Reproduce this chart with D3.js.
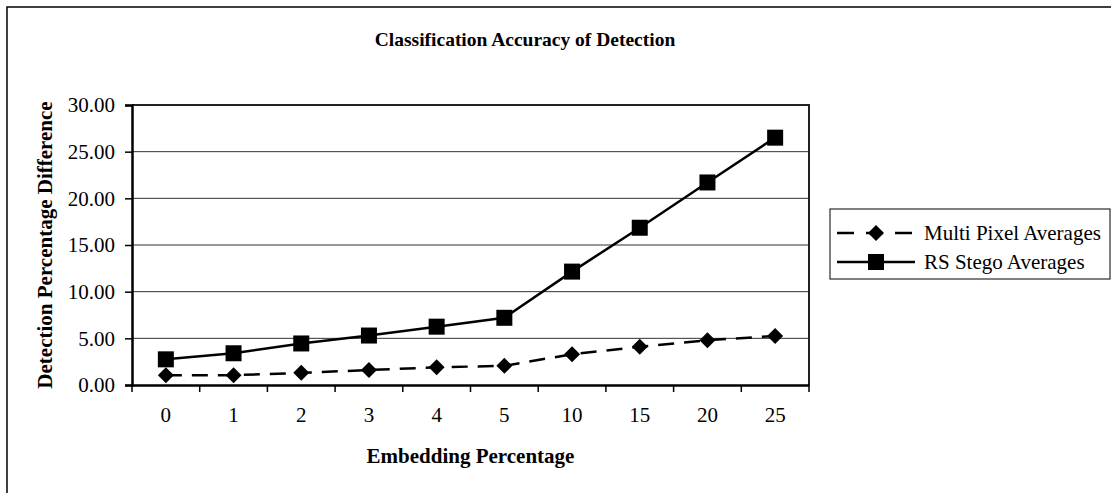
<!DOCTYPE html>
<html>
<head>
<meta charset="utf-8">
<script src="https://cdn.jsdelivr.net/npm/d3@7"></script>
<style>
  body { margin: 0; background: #fff; }
  svg text { font-family: "Liberation Serif", "Times New Roman", serif; }
</style>
</head>
<body>
<svg id="chart" width="1111" height="493"></svg>
<script>
const categories = ["0", "1", "2", "3", "4", "5", "10", "15", "20", "25"];
const multiPixel = [1.05, 1.05, 1.3, 1.6, 1.9, 2.05, 3.3, 4.1, 4.8, 5.25];
const rsStego = [2.75, 3.4, 4.45, 5.3, 6.25, 7.2, 12.15, 16.85, 21.7, 26.5];
const yTicks = [0, 5, 10, 15, 20, 25, 30];

const seriesList = [
  { name: "Multi Pixel Averages", values: multiPixel, dash: "16,10", marker: "diamond" },
  { name: "RS Stego Averages", values: rsStego, dash: null, marker: "square" }
];

const svg = d3.select("#chart");
const plot = { left: 132, top: 105, right: 809, bottom: 385 };

// outer chart border
svg.append("rect")
  .attr("x", 7).attr("y", 7)
  .attr("width", 1120).attr("height", 500)
  .attr("fill", "none").attr("stroke", "#000").attr("stroke-width", 1.5);

svg.append("text")
  .attr("x", 525).attr("y", 46)
  .attr("text-anchor", "middle")
  .attr("font-weight", "bold").attr("font-size", 19.5)
  .text("Classification Accuracy of Detection");

const x = d3.scaleBand().domain(categories).range([plot.left, plot.right]);
const y = d3.scaleLinear().domain([0, 30]).range([plot.bottom, plot.top]);

// gridlines
svg.append("g")
  .selectAll("line")
  .data(yTicks.filter(t => t > 0 && t < 30))
  .enter().append("line")
  .attr("x1", plot.left).attr("x2", plot.right)
  .attr("y1", d => y(d)).attr("y2", d => y(d))
  .attr("stroke", "#333").attr("stroke-width", 1);

// plot frame (top/right)
svg.append("path")
  .attr("d", `M${plot.left},${plot.top}H${plot.right}V${plot.bottom}`)
  .attr("fill", "none").attr("stroke", "#222").attr("stroke-width", 2);

// y axis
const yAxis = svg.append("g")
  .attr("transform", `translate(${plot.left},0)`)
  .call(d3.axisLeft(y).tickValues(yTicks).tickFormat(d3.format(".2f")).tickSize(7).tickPadding(10));
yAxis.attr("font-family", null);
yAxis.select(".domain").attr("stroke-width", 2.5);
yAxis.selectAll(".tick line").attr("stroke-width", 1.5);
yAxis.selectAll("text").attr("font-size", 21);

// x axis, ticks on category boundaries
const xAxis = svg.append("g")
  .attr("transform", `translate(0,${plot.bottom})`)
  .call(d3.axisBottom(x).tickSize(0).tickPadding(22));
xAxis.attr("font-family", null);
xAxis.select(".domain").attr("stroke-width", 2.5);
xAxis.selectAll("text").attr("font-size", 21);

const boundaries = categories.map(c => x(c)).concat([plot.right]);
xAxis.selectAll(".bound")
  .data(boundaries)
  .enter().append("line")
  .attr("class", "bound")
  .attr("x1", d => d).attr("x2", d => d)
  .attr("y1", 0).attr("y2", 7)
  .attr("stroke", "#000").attr("stroke-width", 1.5);

svg.append("text")
  .attr("x", (plot.left + plot.right) / 2).attr("y", 463)
  .attr("text-anchor", "middle")
  .attr("font-weight", "bold").attr("font-size", 21)
  .text("Embedding Percentage");

svg.append("text")
  .attr("transform", `translate(52,${(plot.top + plot.bottom) / 2}) rotate(-90)`)
  .attr("text-anchor", "middle")
  .attr("font-weight", "bold").attr("font-size", 21)
  .text("Detection Percentage Difference");

function drawMarker(g, type) {
  if (type === "square") {
    g.append("rect").attr("x", -8).attr("y", -8).attr("width", 16).attr("height", 16).attr("fill", "#000");
  } else {
    g.append("path").attr("d", "M0,-8L8,0L0,8L-8,0Z").attr("fill", "#000");
  }
}

const line = d3.line()
  .x((d, i) => x(categories[i]) + x.bandwidth() / 2)
  .y(d => y(d));

seriesList.forEach(s => {
  svg.append("path")
    .datum(s.values)
    .attr("d", line)
    .attr("fill", "none").attr("stroke", "#000").attr("stroke-width", 2.5)
    .attr("stroke-dasharray", s.dash);

  s.values.forEach((v, i) => {
    const g = svg.append("g")
      .attr("transform", `translate(${x(categories[i]) + x.bandwidth() / 2},${y(v)})`);
    drawMarker(g, s.marker);
  });
});

// legend
const legend = svg.append("g");
legend.append("rect")
  .attr("x", 830).attr("y", 209).attr("width", 280).attr("height", 70)
  .attr("fill", "#fff").attr("stroke", "#000").attr("stroke-width", 1);

seriesList.forEach((s, i) => {
  const ly = 233 + i * 29;
  legend.append("line")
    .attr("x1", 837).attr("x2", 915).attr("y1", ly).attr("y2", ly)
    .attr("stroke", "#000").attr("stroke-width", 2.5)
    .attr("stroke-dasharray", s.dash ? "17,12" : null);
  const g = legend.append("g").attr("transform", `translate(876,${ly})`);
  drawMarker(g, s.marker);
  legend.append("text")
    .attr("x", 924).attr("y", ly + 7)
    .attr("font-size", 21)
    .text(s.name);
});
</script>
</body>
</html>
